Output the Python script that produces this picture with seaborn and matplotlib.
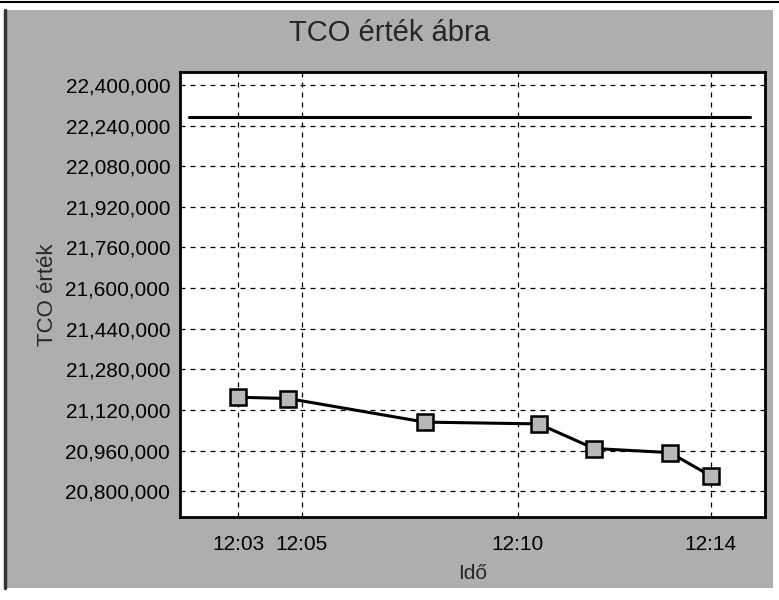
import pandas as pd
import matplotlib
matplotlib.use('Agg')
import matplotlib.pyplot as plt
import matplotlib.ticker as ticker
from matplotlib.patches import Rectangle
from matplotlib.lines import Line2D
import seaborn as sns

# measured TCO values over time
times = ["12:03:32", "12:04:41", "12:07:51", "12:10:29", "12:11:46", "12:13:31", "12:14:28"]
tco_values = [21170000, 21165000, 21072000, 21065000, 20968000, 20952000, 20860000]
reference_tco = 22274000

tick_times = ["12:03:32", "12:05:00", "12:10:00", "12:14:28"]
tick_labels = ["12:03", "12:05", "12:10", "12:14"]
y_ticks = [20800000 + 160000 * i for i in range(11)]


def to_minutes(t):
    h, m, s = [int(p) for p in t.split(":")]
    return h * 60 + m + s / 60 - 12 * 60


sns.set_style("white")
plt.rcParams['font.family'] = ['Liberation Sans', 'DejaVu Sans']

df = pd.DataFrame({"Idő": [to_minutes(t) for t in times], "TCO érték": tco_values})

bg = '#aeaeae'
fig = plt.figure(figsize=(7.79, 6.0), dpi=100)
fig.patch.set_facecolor('white')
fig.patches.append(Rectangle((0.0064, 0.02), 0.986, 0.963, transform=fig.transFigure,
                             facecolor=bg, edgecolor='none', zorder=-10))
fig.lines.append(Line2D([0, 1], [0.9967, 0.9967], transform=fig.transFigure, color='black', lw=1.5))
fig.lines.append(Line2D([0.0064, 0.0064], [0.02, 0.983], transform=fig.transFigure, color='#333333', lw=2.5))

ax = fig.add_axes([0.231, 0.138, 0.751, 0.742])
ax.set_facecolor('white')

ax.axhline(reference_tco, xmin=0.015, xmax=0.975, color='black', lw=2.2, zorder=3)
sns.lineplot(data=df, x="Idő", y="TCO érték", ax=ax, color='black', lw=2.2,
             marker='s', markersize=11.5, markerfacecolor='#b8b8b8',
             markeredgecolor='black', markeredgewidth=1.8, zorder=4)

ax.set_xlim(2.18, 15.72)
ax.set_ylim(20697500, 22451000)
ax.set_xticks([to_minutes(t) for t in tick_times])
ax.set_xticklabels(tick_labels)
ax.set_yticks(y_ticks)
ax.yaxis.set_major_formatter(ticker.FuncFormatter(lambda x, p: format(int(x), ',')))

ax.grid(True, color='black', linestyle=(0, (4, 4)), linewidth=0.9)
for side in ax.spines.values():
    side.set_color('black')
    side.set_linewidth(2)

ax.tick_params(axis='x', length=9, width=1, direction='out', labelsize=15, pad=4, colors='black')
ax.tick_params(axis='y', length=5, width=1, direction='out', labelsize=15, pad=2, colors='black')
ax.set_xlabel("Idő", fontsize=15, labelpad=7)
ax.set_ylabel("TCO érték", fontsize=16, labelpad=5)

fig.text(0.5, 0.945, "TCO érték ábra", ha='center', va='center', fontsize=21)

fig.savefig("out.png", dpi=100, facecolor=fig.get_facecolor())
